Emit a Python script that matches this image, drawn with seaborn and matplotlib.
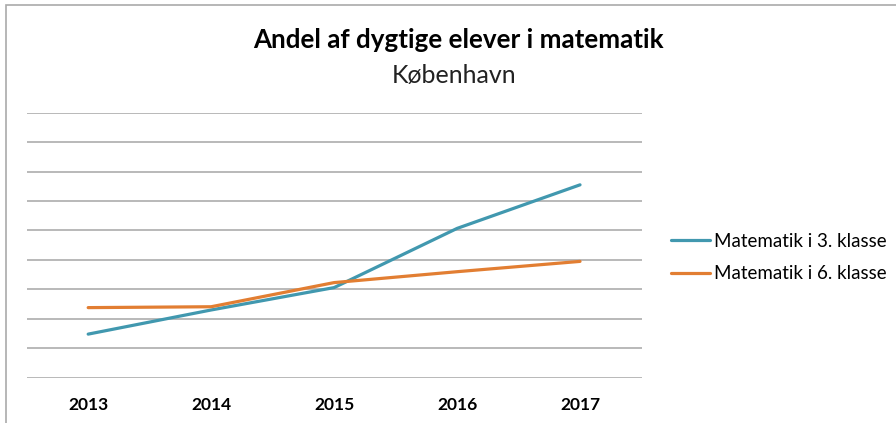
import numpy as np
import pandas as pd
import seaborn as sns
import matplotlib.pyplot as plt
from matplotlib.patches import Rectangle

years = [2013, 2014, 2015, 2016, 2017]
klasse3 = [1.48, 2.3, 3.06, 5.07, 6.55]
klasse6 = [2.38, 2.41, 3.23, 3.6, 3.95]
series_names = ["Matematik i 3. klasse", "Matematik i 6. klasse"]
colors = ["#4198AF", "#E27E32"]

df = pd.DataFrame({
    "aar": years * 2,
    "andel": klasse3 + klasse6,
    "serie": [series_names[0]] * len(years) + [series_names[1]] * len(years),
})

sns.set_theme(style="white")
plt.rcParams['font.family'] = ['Lato', 'DejaVu Sans']

fig = plt.figure(figsize=(8.96, 4.23), dpi=100)
ax = fig.add_axes([26.7 / 896, 1 - 377.7 / 423, (641.5 - 26.7) / 896, (377.7 - 112.7) / 423])

# chart frame (Excel style)
fig.patches.append(Rectangle((5.5 / 896, -0.1), 1.2, 1.1 - 5.5 / 423, transform=fig.transFigure,
                             fill=False, edgecolor="#AAAAAA", lw=1.2))

sns.lineplot(data=df, x="aar", y="andel", hue="serie", palette=colors, lw=2.3, ax=ax, legend=False)

ax.set_xlim(years[0] - 0.5, years[-1] + 0.5)
ax.set_ylim(0, 9)
ax.set_yticks(np.arange(0, 10))
ax.set_yticklabels([])
ax.set_xticks(years)
ax.set_xticklabels([str(y) for y in years], fontsize=12.5, fontweight="bold", color="black")
ax.tick_params(axis="x", length=0, pad=14)
ax.tick_params(axis="y", length=0)
ax.yaxis.grid(True, color="#A6A6A6", lw=1.1)
ax.set_xlabel("")
ax.set_ylabel("")
for s in ax.spines.values():
    s.set_visible(False)

fig.text(458 / 896, 1 - 40 / 423, "Andel af dygtige elever i matematik", ha="center", va="center",
         fontsize=18.7, fontweight="bold", color="black")
fig.text(454 / 896, 1 - 75 / 423, "København", ha="center", va="center", fontsize=18, color="#222222")

handles = [plt.Line2D([], [], color=c, lw=2.3) for c in colors]
fig.legend(handles, series_names, loc="center left", bbox_to_anchor=(671 / 896, 1 - 257.5 / 423),
           frameon=False, fontsize=13.5, handlelength=2.1, handletextpad=0.2, labelspacing=0.85,
           borderpad=0, borderaxespad=0, labelcolor="black")

fig.savefig("out.png", dpi=100)
